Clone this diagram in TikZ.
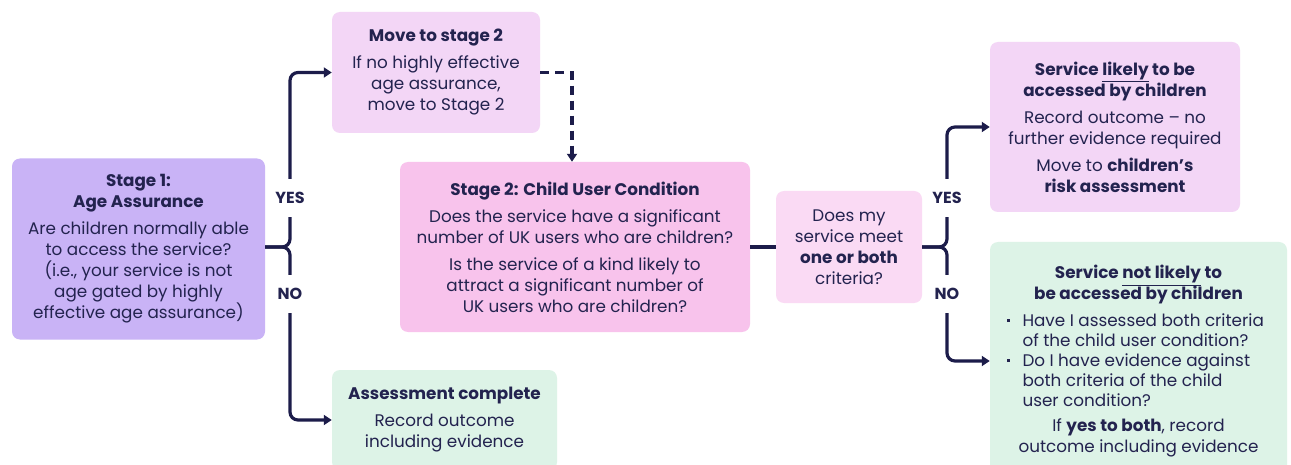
\documentclass[tikz,border=0pt]{standalone}
\usepackage{fontspec}
\setmainfont{Poppins}
\usetikzlibrary{arrows.meta}
\definecolor{ink}{HTML}{23234F}
\definecolor{lineC}{HTML}{1C1C4A}
\definecolor{purp}{HTML}{C9B3F6}
\definecolor{lilac}{HTML}{F3D6F6}
\definecolor{pinkA}{HTML}{F8C3EC}
\definecolor{pinkB}{HTML}{FADAF4}
\definecolor{mint}{HTML}{DDF3E7}
\tikzset{
  box/.style={rounded corners=8pt, fill=#1, draw=none, align=center, text=ink,
    inner sep=0pt, font=\fontsize{16.8}{21}\selectfont},
  conn/.style={draw=lineC, line width=3.2pt, rounded corners=8pt},
  arr/.style={-{Triangle[length=8pt,width=10pt]}},
  dashconn/.style={draw=lineC, line width=3.2pt, dash pattern=on 9pt off 6pt},
  lab/.style={font=\bfseries\fontsize{16}{18}\selectfont, text=ink,
    minimum height=38pt, inner sep=0pt}
}
\begin{document}
\begin{tikzpicture}[x=1pt,y=-1pt]
\useasboundingbox (0,0) rectangle (1291,465);
\fill[white] (0,0) rectangle (1291,465);

\node[box=purp, minimum width=253pt, minimum height=181pt] (stage1) at (138.5,249)
 {\textbf{Stage 1:}\\ \textbf{Age Assurance}\\[6pt]
  Are children normally able\\ to access the service?\\ (i.e., your service is not\\
  age gated by highly\\ effective age assurance)};

\node[box=lilac, minimum width=208pt, minimum height=121pt] (move) at (436,72.5)
 {\textbf{Move to stage 2}\\[6pt] If no highly effective\\ age assurance,\\ move to Stage 2};

\node[box=pinkA, minimum width=350pt, minimum height=170pt] (stage2) at (575,247)
 {\textbf{Stage 2: Child User Condition}\\[6pt]
  Does the service have a significant\\ number of UK users who are children?\\[6pt]
  Is the service of a kind likely to\\ attract a significant number of\\ UK users who are children?};

\node[box=pinkB, minimum width=146pt, minimum height=112pt] (decide) at (849,247)
 {Does my\\ service meet\\ \textbf{one or both}\\ criteria?};

\node[box=lilac, minimum width=250pt, minimum height=170pt] (likely) at (1115,127)
 {\textbf{Service \underline{likely} to be}\\ \textbf{accessed by children}\\[6pt]
  Record outcome -- no\\ further evidence required\\[6pt]
  Move to \textbf{children’s}\\ \textbf{risk assessment}};

\node[box=mint, minimum width=297pt, minimum height=238pt] (notlikely) at (1138.5,361)
 {\textbf{Service \underline{not likely} to}\\ \textbf{be accessed by children}\\[8pt]
  \begin{minipage}{264pt}\raggedright\baselineskip=20pt
  \makebox[16pt][l]{\raisebox{4pt}{\rule{3.5pt}{3.5pt}}}Have I assessed both criteria\\
  \hspace*{16pt}of the child user condition?\\
  \makebox[16pt][l]{\raisebox{4pt}{\rule{3.5pt}{3.5pt}}}Do I have evidence against\\
  \hspace*{16pt}both criteria of the child\\
  \hspace*{16pt}user condition?
  \end{minipage}\\[11pt]
  If \textbf{yes to both}, record\\ outcome including evidence};

\node[box=mint, minimum width=225pt, minimum height=100pt] (assess) at (444.5,420)
 {\textbf{Assessment complete}\\[6pt] Record outcome\\ including evidence};

% left bracket
\node[lab] (yes1) at (290,198) {YES};
\node[lab] (no1) at (290,294) {NO};
\coordinate (jun1) at (290,247);
\draw[conn] (yes1.south) -- (jun1) -- (stage1.east |- jun1);
\draw[conn] (no1.north) -- (jun1) -- (stage1.east |- jun1);
\draw[conn,arr] (yes1.north) |- (move.west);
\draw[conn,arr] (no1.south) |- (assess.west);

% dashed
\coordinate (dc) at (572,72.5);
\draw[dashconn,arr] (move.east) -- (dc) -- (dc |- stage2.north);

% middle
\draw[conn] (stage2.east) -- (decide.west);

% right bracket
\node[lab] (yes2) at (947,198) {YES};
\node[lab] (no2) at (947,294) {NO};
\coordinate (jun2) at (947,247);
\draw[conn] (yes2.south) -- (jun2) -- (decide.east);
\draw[conn] (no2.north) -- (jun2) -- (decide.east);
\draw[conn,arr] (yes2.north) |- (likely.west);
\draw[conn,arr] (no2.south) |- (notlikely.west);
\end{tikzpicture}
\end{document}
